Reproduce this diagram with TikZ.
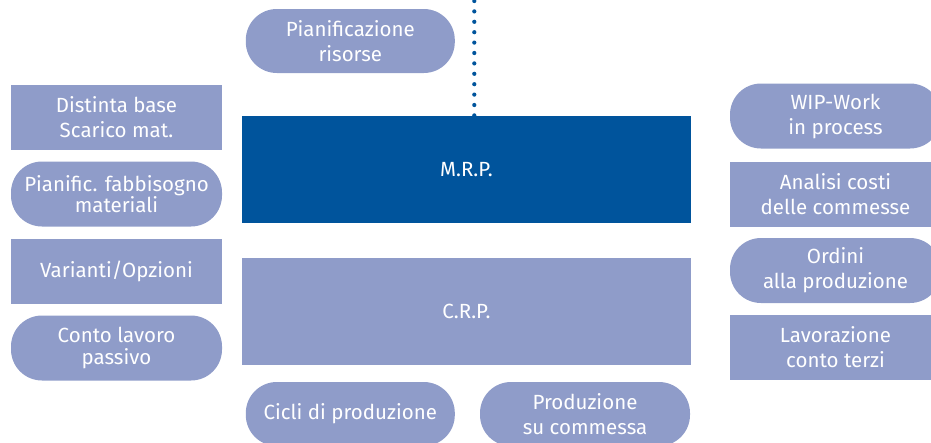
\documentclass[tikz,border=0pt]{standalone}
\usepackage{fontspec}
\setmainfont{Fira Sans}
\definecolor{lightblue}{RGB}{143,156,201}
\definecolor{darkblue}{RGB}{0,84,156}
\begin{document}
\begin{tikzpicture}[x=1pt,y=-1pt,
  box/.style={fill=lightblue, text=white, align=center, inner sep=0pt,
    minimum width=211pt, minimum height=65pt, font=\fontsize{20.5}{25}\selectfont},
  tight/.style={font=\fontsize{20.5}{21.5}\selectfont},
  pill/.style={box, rounded corners=31pt},
  big/.style={box, minimum width=449pt, minimum height=107pt},
  dotline/.style={darkblue, line width=4.2pt, line cap=round, dash pattern=on 0pt off 10.4pt}]
\useasboundingbox (0,0) rectangle (931,442);
\clip (0,0) rectangle (931,442);
% left column
\node[box]  (distinta) at (116.5,117.5) {Distinta base\\Scarico mat.};
\node[pill,tight] (pianific) at (116.5,194) {Pianific. fabbisogno\\materiali};
\node[box]  (varianti) at (116.5,271) {Varianti/Opzioni};
\node[pill,tight] (conto) at (116.5,348) {Conto lavoro\\passivo};
% center
\node[pill, minimum width=209pt, minimum height=64pt] (risorse) at (350.3,41) {Pianificazione\\risorse};
\node[big, fill=darkblue] (mrp) at (466.5,169.5) {M.R.P.};
\node[big] (crp) at (466.5,311.5) {C.R.P.};
\node[pill, minimum width=209pt, minimum height=64pt] (cicli) at (350.3,414) {Cicli di produzione};
\node[pill, minimum width=210pt, minimum height=64pt] (commessa) at (585,414) {Produzione\\su commessa};
% right column
\node[pill] (wip) at (835.5,116) {WIP-Work\\in process};
\node[box]  (analisi) at (835.5,194.3) {Analisi costi\\delle commesse};
\node[pill] (ordini) at (835.5,270.5) {Ordini\\alla produzione};
\node[box]  (lavorazione) at (835.5,347.5) {Lavorazione\\conto terzi};
% dotted connector
\coordinate (dtop) at (474.3,1);
\draw[dotline] (dtop) -- (dtop |- mrp.north);
\end{tikzpicture}
\end{document}
